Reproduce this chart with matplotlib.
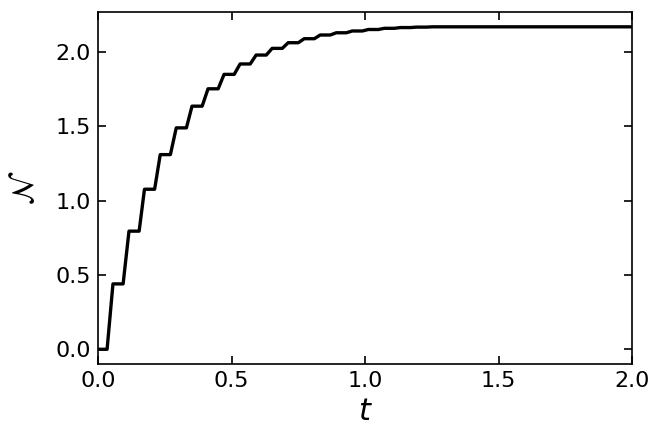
import matplotlib
matplotlib.use("Agg")
from matplotlib import pyplot as plt

# plateau levels of N
levels = [0.0, 0.44, 0.795, 1.077, 1.31, 1.49, 1.636, 1.753, 1.85, 1.92,
          1.98, 2.025, 2.063, 2.09, 2.115, 2.13, 2.142, 2.152, 2.16, 2.165,
          2.168, 2.17]
# start / end time of each plateau
t_start = [0.0, 0.056, 0.116, 0.174, 0.233, 0.293, 0.352, 0.412, 0.472, 0.532,
           0.592, 0.652, 0.712, 0.772, 0.832, 0.892, 0.952, 1.012, 1.072, 1.132,
           1.192, 1.252]
t_end = [0.034, 0.094, 0.154, 0.212, 0.271, 0.331, 0.390, 0.450, 0.510, 0.570,
         0.630, 0.690, 0.750, 0.810, 0.870, 0.930, 0.990, 1.050, 1.110, 1.170,
         1.230, 2.0]


def main():
    t = []
    n = []
    for a, b, lv in zip(t_start, t_end, levels):
        t.extend([a, b])
        n.extend([lv, lv])

    fig = plt.figure(figsize=(6.64, 4.43), dpi=100)
    ax = fig.add_axes([0.1476, 0.178, 0.8044, 0.795])
    ax.plot(t, n, color="black", lw=2.4, solid_joinstyle="round")

    ax.set_xlim(0, 2)
    ax.set_ylim(-0.1, 2.27)
    ax.set_xticks([0, 0.5, 1.0, 1.5, 2.0])
    ax.set_yticks([0, 0.5, 1.0, 1.5, 2.0])
    ax.tick_params(direction="in", top=True, right=True, length=6, width=1.2,
                   labelsize=16, pad=5)
    for s in ax.spines.values():
        s.set_linewidth(1.2)
    ax.set_xlabel("$t$", fontsize=22, labelpad=4)
    ax.set_ylabel(r"$\mathcal{N}$", fontsize=22, labelpad=11)

    fig.savefig("out.png", dpi=100)


if __name__ == "__main__":
    main()
